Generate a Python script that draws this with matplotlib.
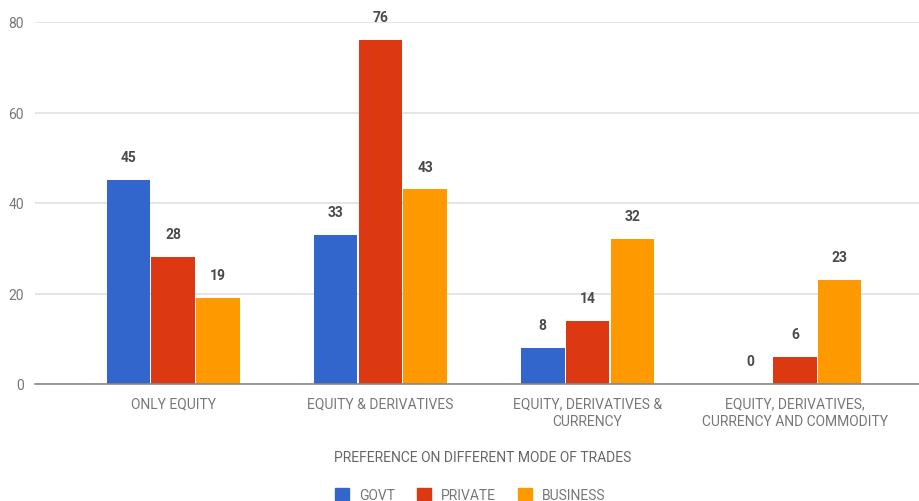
import numpy as np
import matplotlib
matplotlib.use("Agg")
import matplotlib.pyplot as plt
from matplotlib.patches import Patch

categories = ["ONLY EQUITY", "EQUITY & DERIVATIVES", "EQUITY, DERIVATIVES &\nCURRENCY",
              "EQUITY, DERIVATIVES,\nCURRENCY AND COMMODITY"]
series_names = ["GOVT", "PRIVATE", "BUSINESS"]
govt = [45, 33, 8, 0]
private = [28, 76, 14, 6]
business = [19, 43, 32, 23]
y_ticks = [0, 20, 40, 60, 80]

colors = ["#3366CC", "#DC3912", "#FF9900"]

plt.rcParams['font.family'] = ['Roboto', 'DejaVu Sans']

fig = plt.figure(figsize=(9.2, 5.02), dpi=100)
ax = fig.add_axes([35 / 920, 1 - 385 / 502, 1 - 35 / 920, (385 - 23) / 502])

x = np.arange(len(categories))
width = 0.21
step = 0.216
for i, (vals, name) in enumerate(zip([govt, private, business], series_names)):
    pos = x + (i - 1) * step
    ax.bar(pos, vals, width, color=colors[i], label=name, zorder=3)
    for px, v in zip(pos, vals):
        ax.annotate(str(v), (px, v), xytext=(0, 16.5), textcoords="offset points",
                    ha="center", va="center", fontsize=10, fontweight="bold", color="#4a4a4a")

ax.set_xlim(-0.666, 3.604)
ax.set_ylim(0, 80)
ax.set_yticks(y_ticks)
ax.yaxis.grid(True, color="#e0e0e0", linewidth=1.2, zorder=0)
ax.set_xticks(x)
ax.set_xticklabels(categories, fontsize=10, color="#777777", linespacing=1.3)
ax.tick_params(axis="both", length=0, colors="#777777", labelsize=10)
ax.tick_params(axis="x", pad=9)
ax.tick_params(axis="y", pad=8)
for s in ["top", "right", "left"]:
    ax.spines[s].set_visible(False)
ax.spines["bottom"].set_color("#888888")
ax.spines["bottom"].set_linewidth(1.2)
ax.spines["bottom"].set_zorder(4)

fig.text(483 / 920, 1 - 458 / 502, "PREFERENCE ON DIFFERENT MODE OF TRADES",
         ha="center", va="center", fontsize=10, color="#666666")

handles = [Patch(color=c, label=n) for c, n in zip(colors, series_names)]
fig.legend(handles=handles, loc="center", bbox_to_anchor=(470 / 920, 1 - 496 / 502),
           ncol=3, frameon=False, fontsize=10, labelcolor="#777777",
           handlelength=1.0, handleheight=1.0, handletextpad=0.7, columnspacing=1.6)

fig.savefig("out.png", dpi=100)
